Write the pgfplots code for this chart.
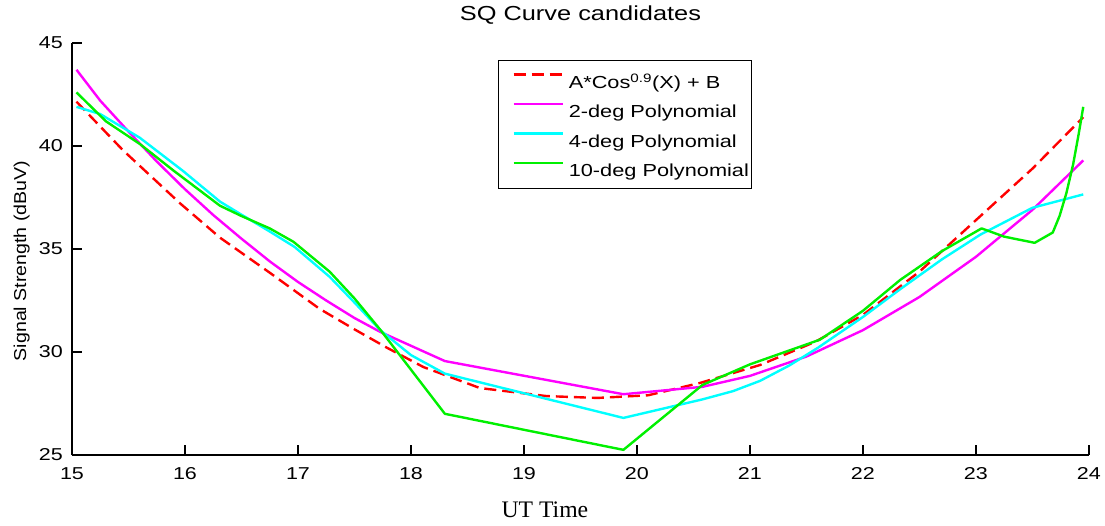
\documentclass[border=0pt]{standalone}
\usepackage{fontspec}
\setmainfont{Liberation Sans}[FakeStretch=1.25]
\newfontfamily\serifx{Liberation Serif}
\newfontfamily\ylabfont{Liberation Sans}[FakeStretch=1.14]
\usepackage{pgfplots}
\pgfplotsset{compat=1.18}
\definecolor{mred}{RGB}{255,0,0}
\definecolor{mmag}{RGB}{255,0,255}
\definecolor{mcya}{RGB}{0,255,255}
\definecolor{mgrn}{RGB}{0,240,0}
\begin{document}
\begin{tikzpicture}
\path[use as bounding box] (-72pt,-70pt) rectangle (1033pt,455pt);
\begin{axis}[
  at={(0pt,0pt)}, anchor=south west,
  width=1017pt, height=412pt, scale only axis,
  xmin=15, xmax=24, ymin=25, ymax=45,
  enlargelimits=false,
  axis lines*=left,
  axis line style={line width=1.2pt, black},
  tick style={line width=1.2pt, black},
  tick align=inside,
  major tick length=10pt,
  xtick={15,16,...,24},
  ytick={25,30,...,45},
  /pgf/number format/assume math mode=true,
  tick label style={font=\fontsize{17.2}{20}\selectfont},
  xticklabel style={anchor=base, inner sep=0pt, yshift=-24pt},
  yticklabel style={anchor=east, inner sep=0pt, xshift=-9pt},
  title={SQ Curve candidates},
  title style={font=\fontsize{20.3}{24}\selectfont, at={(axis description cs:0.5,1)}, anchor=base, yshift=16.5pt},
  xlabel={UT Time},
  xlabel style={font=\serifx\fontsize{23.7}{28}\selectfont, at={(axis description cs:0.465,0)}, anchor=base, yshift=-62pt},
  ylabel={Signal Strength (dBuV)},
  ylabel style={font=\ylabfont\fontsize{17.2}{20}\selectfont, at={(axis description cs:-0.0452,0.471)}, anchor=base},
  legend style={at={(axis description cs:0.419,0.959)}, anchor=north west,
    draw=black, line width=1pt, fill=white,
    font=\fontsize{17.4}{20}\selectfont,
    inner xsep=3pt, inner ysep=10pt,
    nodes={inner sep=0pt, text height=18pt, text depth=2pt},
    row sep=9.5pt, column sep=5pt},
  legend cell align=left,
  legend image code/.code={\path[draw=none, fill=none] (0pt,6pt) -- (12pt,6pt); \draw[#1] (12pt,6pt) -- (61pt,6pt);},
  every axis plot/.append style={line width=2.4pt, line join=round},
]
\addplot[color=mred, dash pattern=on 12pt off 6pt] coordinates {
(15.04,42.15) (15.45,39.8) (15.96,37.2) (16.31,35.55) (16.75,33.85) (17.19,32.1) (17.5,31.1) (17.79,30.2) (18.11,29.27) (18.61,28.25) (19.2,27.86) (19.65,27.77) (20.1,27.9) (20.56,28.5) (21.09,29.37) (21.58,30.5) (22.0,31.8) (22.5,33.9) (23.04,36.6) (23.5,38.9) (23.95,41.4)
};
\addlegendentry{A*Cos\textsuperscript{0.9}(X) + B}
\addplot[color=mmag] coordinates {
(15.04,43.7) (15.25,42.2) (15.5,40.7) (15.75,39.25) (16.0,37.9) (16.25,36.65) (16.5,35.5) (16.75,34.4) (17.0,33.4) (17.25,32.5) (17.5,31.65) (17.73,30.97) (18.3,29.56) (19.88,27.95) (20.58,28.31) (21.0,28.84) (21.5,29.78) (22.0,31.06) (22.5,32.67) (23.0,34.62) (23.5,36.9) (23.95,39.3)
};
\addlegendentry{2-deg Polynomial}
\addplot[color=mcya] coordinates {
(15.04,41.9) (15.25,41.55) (15.6,40.4) (15.98,38.8) (16.31,37.3) (16.49,36.7) (16.75,35.85) (16.97,35.1) (17.28,33.65) (17.5,32.4) (17.73,31.05) (18.0,29.85) (18.3,28.95) (19.88,26.8) (20.58,27.7) (20.85,28.1) (21.09,28.6) (21.35,29.35) (21.6,30.2) (22.0,31.7) (22.33,33.05) (22.7,34.5) (23.04,35.7) (23.5,37.0) (23.95,37.65)
};
\addlegendentry{4-deg Polynomial}
\addplot[color=mgrn] coordinates {
(15.04,42.6) (15.3,41.2) (15.6,40.1) (15.9,38.8) (16.31,37.1) (16.5,36.6) (16.75,36.0) (16.96,35.35) (17.28,33.9) (17.5,32.6) (17.73,31.07) (18.3,27.0) (19.88,25.25) (20.58,28.4) (21.0,29.4) (21.62,30.6) (22.0,32.0) (22.33,33.5) (22.7,34.9) (23.05,36.0) (23.25,35.6) (23.52,35.3) (23.68,35.8) (23.74,36.6) (23.8,37.7) (23.86,39.1) (23.91,40.6) (23.95,41.9)
};
\addlegendentry{10-deg Polynomial}
\end{axis}
\end{tikzpicture}
\end{document}
